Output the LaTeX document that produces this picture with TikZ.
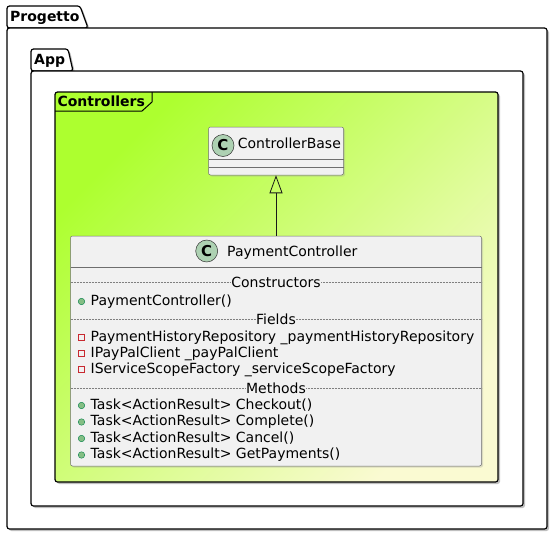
\documentclass[tikz,border=0pt]{standalone}
\usepackage{fontspec}
\setmainfont{DejaVu Sans}
\usetikzlibrary{arrows.meta,shadows}
\definecolor{classbg}{HTML}{F1F1F1}
\definecolor{lineclr}{HTML}{6E6E6E}
\definecolor{spotbg}{HTML}{ADD1B2}
\definecolor{pubfill}{HTML}{84BE84}
\definecolor{publine}{HTML}{038048}
\definecolor{privline}{HTML}{C82930}
\definecolor{ctrltop}{HTML}{ADFF2F}
\definecolor{ctrlbot}{HTML}{FAFAD2}
\tikzset{
  pkg/.style={draw=black, line width=1.2pt, rounded corners=2.5pt},
  pkgshadow/.style={drop shadow={shadow xshift=2pt, shadow yshift=-2pt, fill=black!50, opacity=0.5}},
  classbox/.style={draw=lineclr, fill=classbg, line width=0.5pt, rounded corners=2pt, inner sep=0pt,
    drop shadow={shadow xshift=1.5pt, shadow yshift=-1.5pt, fill=black!40, opacity=0.3}},
  spot/.style={circle, draw=black!80, fill=spotbg, line width=0.5pt, inner sep=0pt, minimum size=22pt,
    font=\fontsize{15}{15}\selectfont\bfseries},
  member/.style={anchor=base west, inner sep=0pt, font=\fontsize{14}{16}\selectfont},
  hline/.style={draw=lineclr, line width=0.5pt},
  sep/.style={draw=gray, dash pattern=on 2pt off 1pt, line width=0.5pt},
  seplabel/.style={fill=classbg, inner sep=0.5pt, font=\fontsize{14}{16}\selectfont},
  pub/.style={circle, draw=publine, fill=pubfill, minimum size=6.5pt, inner sep=0pt, line width=0.4pt},
  priv/.style={rectangle, draw=privline, minimum size=6pt, inner sep=0pt, line width=0.6pt},
  pkgtitle/.style={anchor=base west, inner sep=0pt, font=\fontsize{14}{16}\selectfont\bfseries},
}
\begin{document}
\begin{tikzpicture}[x=1pt,y=-1pt]
  \useasboundingbox (0,0) rectangle (552,536);
  % packages
  \draw[pkg, fill=white, pkgshadow] (7,28) -- (7,6) -- (80,6) -- (88,28) -- cycle;
  \draw[pkg, fill=white, pkgshadow] (7,28) rectangle (547,529);
  \node[pkgtitle] (progetto) at (10,21) {Progetto};
  \draw[pkg, fill=white, pkgshadow] (31,71) -- (31,49) -- (68,49) -- (73,71) -- cycle;
  \draw[pkg, fill=white, pkgshadow] (31,71) rectangle (523,506);
  \node[pkgtitle] (app) at (34,64.3) {App};
  % frame
  \shade[top color=ctrltop, bottom color=ctrlbot, shading angle=45, rounded corners=2.5pt, pkgshadow]
    (55,92) rectangle (498,482);
  \draw[pkg] (55,92) rectangle (498,482);
  \draw[line width=1pt] (55,111) -- (142,111) -- (152,102) -- (152,92);
  \node[pkgtitle] (controllers) at (57.3,106) {Controllers};
  % classes
  \node[classbox, minimum width=135pt, minimum height=48pt] (cb) at (276,151) {};
  \draw[hline] (208.5,159) -- (343.5,159);
  \draw[hline] (208.5,167) -- (343.5,167);
  \node[spot] (cbspot) at (223,145.5) {C};
  \node[member] (cbname) at (237.7,148.5) {ControllerBase};
  \node[classbox, minimum width=411pt, minimum height=230pt] (pc) at (276,351) {};
  \draw[hline] (70.5,267) -- (481.5,267);
  \node[spot] (pcspot) at (206.7,251) {C};
  \node[member] (pcname) at (227,256) {PaymentController};
  \foreach \y/\t [count=\i] in {282.7/Constructors,319.3/Fields,388/Methods}{
    \draw[sep] (70.5,\y) -- (481.5,\y);
    \node[seplabel] (sep\i) at (276,\y) {\t};
  }
  \foreach \y/\t [count=\i] in {300.5/PaymentController(),404.5/Task<ActionResult> Checkout(),
      421/Task<ActionResult> Complete(),437.5/Task<ActionResult> Cancel(),454/Task<ActionResult> GetPayments()}{
    \node[pub] (pubmark\i) at (81.5,\y+1) {};
    \node[member] (pubrow\i) at (90.5,\y+4.5) {\t};
  }
  \foreach \y/\t [count=\i] in {336.5/PaymentHistoryRepository \_paymentHistoryRepository,
      352.5/IPayPalClient \_payPalClient,368.5/IServiceScopeFactory \_serviceScopeFactory}{
    \node[priv] (privmark\i) at (81.5,\y+1) {};
    \node[member] (privrow\i) at (90.5,\y+4.5) {\t};
  }
  % inheritance
  \draw[black!90, line width=0.8pt, -{Triangle[open, length=18pt, width=13pt]}] (pc.north) -- (cb.south);
\end{tikzpicture}
\end{document}
